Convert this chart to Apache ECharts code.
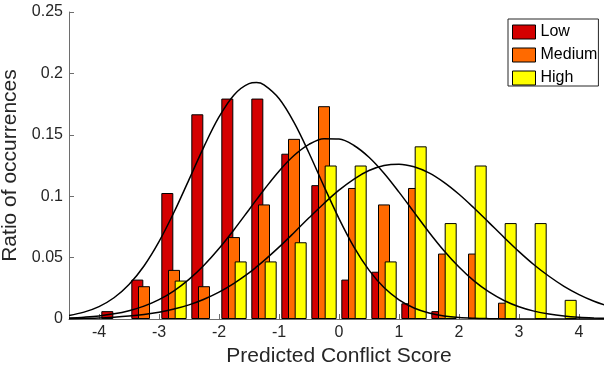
<!DOCTYPE html>
<html>
<head>
<meta charset="utf-8">
<script src="https://cdn.jsdelivr.net/npm/echarts@6/dist/echarts.min.js"></script>
<style>html,body{margin:0;padding:0;background:#fff;}#c{width:604px;height:370px;}</style>
</head>
<body>
<div id="c"></div>
<script>
// Bin centres (Predicted Conflict Score)
const binCenters = [-3.75, -3.25, -2.75, -2.25, -1.75, -1.25, -0.75, -0.25, 0.25, 0.75, 1.25, 1.75, 2.25, 2.75, 3.25, 3.75];
// Ratio of occurrences per bin
const lowRatio    = [0.0064, 0.0321, 0.1026, 0.1667, 0.1795, 0.1795, 0.1346, 0.1090, 0.0321, 0.0385, 0.0128, 0.0064, 0, 0, 0, 0];
const mediumRatio = [0, 0.0267, 0.0400, 0.0267, 0.0667, 0.0933, 0.1467, 0.1733, 0.1067, 0.0933, 0.1067, 0.0533, 0.0533, 0.0133, 0, 0];
const highRatio   = [0, 0, 0.0313, 0, 0.0469, 0.0469, 0.0625, 0.1250, 0.1250, 0.0469, 0.1406, 0.0781, 0.1250, 0.0781, 0.0781, 0.0156];
// Fitted curves
const curveX = [-4.5,-4.25,-4,-3.75,-3.5,-3.25,-3,-2.75,-2.5,-2.25,-2,-1.75,-1.5,-1.375,-1.25,-1,-0.75,-0.5,-0.25,0,0.25,0.5,0.75,1,1.25,1.5,1.75,2,2.25,2.5,2.75,3,3.25,3.5,3.75,4,4.25,4.5];
const lowFit    = [0.0029,0.0056,0.0101,0.0173,0.0281,0.0432,0.0630,0.0869,0.1135,0.1404,0.1645,0.1825,0.1917,0.1925,0.1906,0.1795,0.1601,0.1352,0.1080,0.0818,0.0586,0.0398,0.0256,0.0156,0.0090,0.0049,0.0025,0.0012,0.0006,0.0003,0.0001,0,0,0,0,0,0,0];
const mediumFit = [0.0008,0.0015,0.0025,0.0042,0.0068,0.0105,0.0158,0.0230,0.0323,0.0438,0.0574,0.0727,0.0890,0.0972,0.1053,0.1204,0.1331,0.1422,0.1468,0.1465,0.1413,0.1317,0.1187,0.1033,0.0870,0.0707,0.0556,0.0423,0.0310,0.0220,0.0151,0.0100,0.0064,0.0040,0.0024,0.0014,0.0008,0.0004];
const highFit   = [0.0003,0.0006,0.0009,0.0015,0.0024,0.0037,0.0055,0.0081,0.0115,0.0161,0.0219,0.0291,0.0376,0.0424,0.0475,0.0585,0.0703,0.0824,0.0941,0.1049,0.1140,0.1209,0.1250,0.1261,0.1240,0.1190,0.1113,0.1016,0.0904,0.0785,0.0665,0.0549,0.0442,0.0348,0.0266,0.0199,0.0145,0.0103];
const xTicks = [-4, -3, -2, -1, 0, 1, 2, 3, 4];
const seriesNames = ['Low', 'Medium', 'High'];
const seriesColors = ['#d40000', '#ff6a00', '#ffff00'];

const FONT = 'Liberation Sans, Arial, Helvetica, sans-serif';
const chart = echarts.init(document.getElementById('c'), null, {renderer: 'canvas'});

function barData(vals) {
  return binCenters.map((x, i) => [x, vals[i] === 0 ? null : vals[i]]);
}
function lineData(vals) {
  return curveX.map((x, i) => [x, vals[i]]);
}
const ratios = [lowRatio, mediumRatio, highRatio];
const fits = [lowFit, mediumFit, highFit];

const series = [];
ratios.forEach((r, k) => {
  series.push({
    name: seriesNames[k], type: 'bar', data: barData(r),
    barWidth: 12, barGap: '-44.4%',
    itemStyle: {color: seriesColors[k], borderColor: '#000', borderWidth: 1},
    z: 2, animation: false
  });
});
fits.forEach((f, k) => {
  series.push({
    name: seriesNames[k] + ' fit', type: 'line', data: lineData(f),
    smooth: 0.35, showSymbol: false, symbol: 'none',
    lineStyle: {color: '#000', width: 1.5},
    z: 5, animation: false, silent: true
  });
});

chart.setOption({
  animation: false,
  grid: {left: 69, right: -5, top: 12, bottom: 51, containLabel: false, outerBoundsMode: 'none'},
  legend: {
    data: seriesNames, orient: 'vertical', left: 508, top: 19,
    icon: 'rect', itemWidth: 23, itemHeight: 14, itemGap: 7, itemTextGap: 2,
    padding: [5, 1, 0, 4],
    backgroundColor: '#fff', borderColor: '#262626', borderWidth: 1, borderRadius: 0,
    itemStyle: {borderColor: '#000', borderWidth: 1},
    textStyle: {fontFamily: FONT, fontSize: 16, color: '#000', lineHeight: 14}
  },
  xAxis: {
    type: 'value', min: -4.5, max: 4.5,
    name: 'Predicted Conflict Score', nameLocation: 'middle', nameGap: 21,
    nameTextStyle: {fontFamily: FONT, fontSize: 21, color: '#262626'},
    axisLine: {show: true, onZero: false, lineStyle: {color: '#6e6e6e', width: 1}},
    axisTick: {show: true, inside: true, length: 5, customValues: xTicks, lineStyle: {color: '#6e6e6e'}},
    axisLabel: {customValues: xTicks, margin: 6, fontFamily: FONT, fontSize: 16, color: '#262626'},
    splitLine: {show: false}
  },
  yAxis: {
    type: 'value', min: 0, max: 0.25, interval: 0.05,
    name: 'Ratio of occurrences', nameLocation: 'middle', nameGap: 44,
    nameTextStyle: {fontFamily: FONT, fontSize: 21, color: '#262626'},
    axisLine: {show: true, onZero: false, lineStyle: {color: '#6e6e6e', width: 1}},
    axisTick: {show: true, inside: true, length: 5, lineStyle: {color: '#6e6e6e'}},
    axisLabel: {margin: 6, fontFamily: FONT, fontSize: 16, color: '#262626'},
    splitLine: {show: false}
  },
  series: series
});
</script>
</body>
</html>
